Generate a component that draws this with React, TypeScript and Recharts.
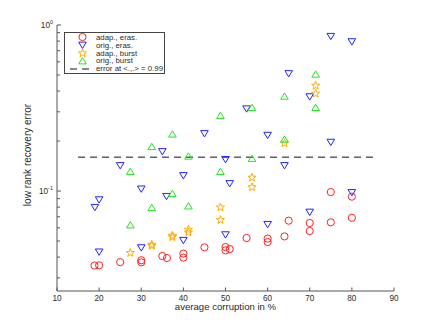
import React from 'react';
import { ScatterChart, Scatter, XAxis, YAxis, ReferenceLine, Legend, Label } from 'recharts';

const FONT = '"Liberation Sans", Arial, Helvetica, sans-serif';
const INK = '#2a2a2a';
const AXIS = '#555555';

const RED = '#ff2222';
const BLUE = '#2222ff';
const ORANGE = '#ffab00';
const GREEN = '#22e622';

// [average corruption %, low rank recovery error]
const adapEras = [
  [18.9, 0.0356], [20, 0.0357], [25, 0.0373], [30, 0.0383], [30, 0.0372],
  [35, 0.0406], [36.1, 0.0395], [40, 0.042], [40, 0.0397], [45, 0.0458],
  [50, 0.046], [50, 0.0439], [51, 0.0447], [55, 0.0521], [60, 0.0517],
  [60, 0.0493], [64, 0.0533], [65, 0.0663], [70, 0.0642], [70, 0.0574],
  [75, 0.0986], [75, 0.0648], [80, 0.0925], [80, 0.069],
];

const origEras = [
  [75, 0.855], [80, 0.794], [65, 0.51], [70, 0.37], [55, 0.313],
  [45, 0.222], [60, 0.217], [75, 0.197], [35, 0.173], [50, 0.155],
  [25, 0.1425], [64, 0.1425], [40, 0.124], [51, 0.111], [30, 0.103],
  [36, 0.0929], [20, 0.0887], [19, 0.0798], [80, 0.098], [70, 0.0747],
  [60, 0.063], [50, 0.0546], [40, 0.0505], [30, 0.0456], [20, 0.043],
];

const adapBurst = [
  [71.4, 0.433], [71.4, 0.388], [64, 0.195], [56.3, 0.121], [56.3, 0.106],
  [48.8, 0.08], [48.8, 0.0672], [41.2, 0.0588], [41.2, 0.0566], [37.4, 0.0541],
  [37.4, 0.053], [32.5, 0.0477], [32.5, 0.047], [27.4, 0.0426],
];

const origBurst = [
  [71.4, 0.505], [64, 0.372], [56.3, 0.318], [48.8, 0.285], [37.4, 0.22],
  [71.4, 0.318], [64, 0.205], [32.5, 0.185], [41.2, 0.162], [56.3, 0.157],
  [27.4, 0.131], [48.8, 0.131], [37.4, 0.0964], [41.2, 0.0812], [32.5, 0.0794],
  [27.4, 0.0624],
];

const errorLevel = 0.16;
const errorSpan = [15, 85];

const xTicks = [10, 20, 30, 40, 50, 60, 70, 80, 90];
const yTicks = [0.03, 0.04, 0.05, 0.06, 0.07, 0.08, 0.09, 0.1, 0.2, 0.3, 0.4, 0.5, 0.6, 0.7, 0.8, 0.9, 1];
const yMajor: Record<string, string> = { '0.1': '-1', '1': '0' };

const legendLabels = ['adap., eras.', 'orig., eras.', 'adap., burst', 'orig., burst', 'error at <.,.> = 0.99'];

const toPoints = (rows: number[][]) => rows.map(([x, y]) => ({ x, y }));

type Kind = 'ring' | 'down' | 'up' | 'star' | 'dash';

const marker = (kind: Kind, cx: number, cy: number, color: string) => {
  if (kind === 'ring') {
    return <circle cx={cx} cy={cy} r={3.6} fill="none" stroke={color} strokeWidth={1} />;
  }
  if (kind === 'down') {
    const pts = `${cx - 3.8},${cy - 2.9} ${cx + 3.8},${cy - 2.9} ${cx},${cy + 3.4}`;
    return <polygon points={pts} fill="none" stroke={color} strokeWidth={1} />;
  }
  if (kind === 'up') {
    const pts = `${cx - 3.8},${cy + 2.9} ${cx + 3.8},${cy + 2.9} ${cx},${cy - 3.4}`;
    return <polygon points={pts} fill="none" stroke={color} strokeWidth={1} />;
  }
  // five-point star
  const pts: string[] = [];
  for (let i = 0; i < 10; i++) {
    const r = i % 2 === 0 ? 4.3 : 1.8;
    const a = -Math.PI / 2 + (i * Math.PI) / 5;
    pts.push(`${cx + r * Math.cos(a)},${cy + 0.3 + r * Math.sin(a)}`);
  }
  return <polygon points={pts.join(' ')} fill="none" stroke={color} strokeWidth={1} />;
};

const legendRows: { kind: Kind; color: string }[] = [
  { kind: 'ring', color: RED },
  { kind: 'down', color: BLUE },
  { kind: 'star', color: ORANGE },
  { kind: 'up', color: GREEN },
  { kind: 'dash', color: '#111' },
];

const LegendBox = () => (
  <div
    style={{
      border: '1px solid #444',
      background: '#fff',
      fontFamily: FONT,
      fontSize: 7.8,
      color: INK,
      width: 99,
      padding: '0.5px 0',
    }}
  >
    {legendRows.map((r, i) => (
      <div key={i} style={{ display: 'flex', alignItems: 'center', height: 7.8, whiteSpace: 'nowrap' }}>
        <svg width={31} height={8} style={{ flex: 'none', overflow: 'visible' }}>
          {r.kind === 'dash' ? (
            <line x1={5} x2={24} y1={4} y2={4} stroke={r.color} strokeDasharray="7 5" strokeWidth={1} />
          ) : (
            marker(r.kind, 17.5, 4, r.color)
          )}
        </svg>
        <span>{legendLabels[i]}</span>
      </div>
    ))}
  </div>
);

const XTick = (props: any) => {
  const { x, y, payload } = props;
  return (
    <g>
      <line x1={x} x2={x} y1={y} y2={y - 3.5} stroke={AXIS} strokeWidth={1} />
      <text x={x} y={y + 9.5} textAnchor="middle" fontFamily={FONT} fontSize={8.2} fill={INK}>
        {payload.value}
      </text>
    </g>
  );
};

const YTick = (props: any) => {
  const { x, y, payload } = props;
  const exp = yMajor[String(payload.value)];
  return (
    <g>
      <line x1={x} x2={x + (exp ? 4 : 3)} y1={y} y2={y} stroke={AXIS} strokeWidth={1} />
      {exp && (
        <text x={x - 4} y={y + 3} textAnchor="end" fontFamily={FONT} fontSize={8.2} fill={INK}>
          <tspan>10</tspan>
          <tspan dy={-4} fontSize={5.5}>{exp}</tspan>
        </text>
      )}
    </g>
  );
};

export default function App() {
  return (
    <div style={{ position: 'absolute', left: 0, top: 0, background: '#fff' }}>
      <ScatterChart width={436} height={327} margin={{ top: 25, right: 42, left: 0, bottom: 0 }}>
        <XAxis
          type="number"
          dataKey="x"
          domain={[10, 90]}
          ticks={xTicks}
          interval={0}
          tickSize={0}
          tickMargin={0}
          tick={<XTick />}
          height={36}
          axisLine={{ stroke: AXIS, strokeWidth: 1 }}
        >
          <Label
            content={() => (
              <text x={225.5} y={310} textAnchor="middle" fontFamily={FONT} fontSize={9.6} fill={INK}>
                average corruption in %
              </text>
            )}
          />
        </XAxis>
        <YAxis
          type="number"
          dataKey="y"
          scale="log"
          domain={[0.025, 1]}
          allowDataOverflow
          ticks={yTicks}
          interval={0}
          tickSize={0}
          tickMargin={0}
          tick={<YTick />}
          width={57}
          axisLine={{ stroke: AXIS, strokeWidth: 1 }}
        >
          <Label
            content={() => (
              <text
                x={31}
                y={155}
                transform="rotate(-90, 31, 155)"
                textAnchor="middle"
                fontFamily={FONT}
                fontSize={10}
                fill={INK}
              >
                low rank recovery error
              </text>
            )}
          />
        </YAxis>
        <ReferenceLine
          segment={[
            { x: errorSpan[0], y: errorLevel },
            { x: errorSpan[1], y: errorLevel },
          ]}
          stroke="#111"
          strokeWidth={1}
          strokeDasharray="7 5"
        />
        <Scatter
          name={legendLabels[0]}
          data={toPoints(adapEras)}
          isAnimationActive={false}
          shape={(p: any) => marker('ring', p.cx, p.cy, RED)}
        />
        <Scatter
          name={legendLabels[1]}
          data={toPoints(origEras)}
          isAnimationActive={false}
          shape={(p: any) => marker('down', p.cx, p.cy, BLUE)}
        />
        <Scatter
          name={legendLabels[2]}
          data={toPoints(adapBurst)}
          isAnimationActive={false}
          shape={(p: any) => marker('star', p.cx, p.cy, ORANGE)}
        />
        <Scatter
          name={legendLabels[3]}
          data={toPoints(origBurst)}
          isAnimationActive={false}
          shape={(p: any) => marker('up', p.cx, p.cy, GREEN)}
        />
        <Legend
          layout="vertical"
          align="center"
          verticalAlign="middle"
          content={() => <LegendBox />}
          wrapperStyle={{ left: 64, top: 32, width: 101, height: 'auto' }}
        />
      </ScatterChart>
    </div>
  );
}
